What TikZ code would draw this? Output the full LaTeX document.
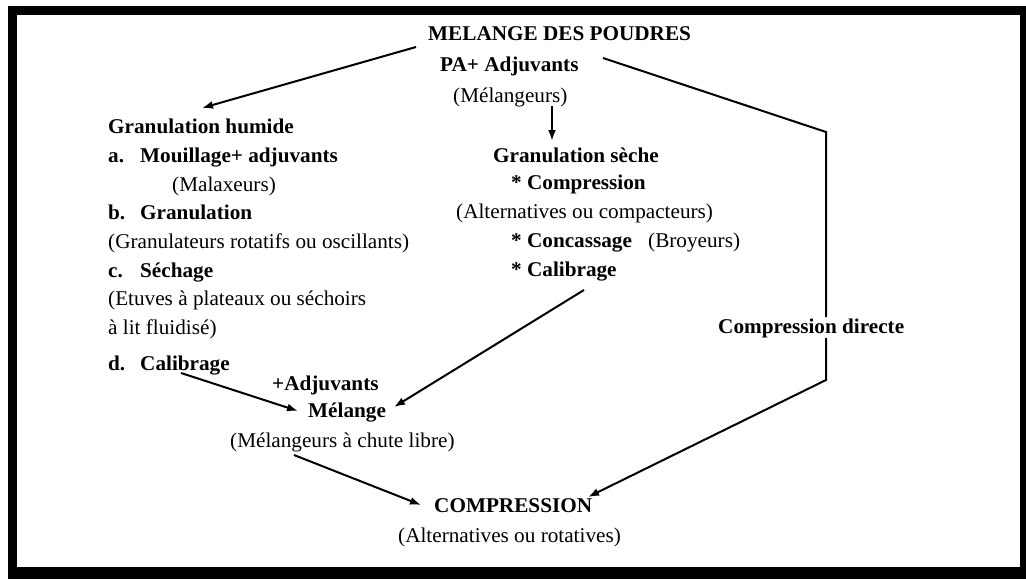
\documentclass[tikz,border=0pt]{standalone}
\usepackage{fontspec}
\setmainfont{Liberation Serif}[FakeStretch=1.01]
\usetikzlibrary{arrows.meta}
\begin{document}
\begin{tikzpicture}[x=1pt,y=-1pt,
  txt/.style={inner sep=0pt, anchor=base west, font=\fontsize{21}{25}\selectfont},
  bt/.style={inner sep=0pt, anchor=base west, font=\fontsize{21}{25}\selectfont\bfseries},
  arr/.style={line width=2pt, -{Latex[length=11pt,width=8pt]}},
  ln/.style={line width=2pt, line join=miter}]
\useasboundingbox (0,0) rectangle (1026,579);
% frame
\fill[black] (8,6) rectangle (1026,579);
\fill[white] (17,15) rectangle (1020,567);
% top
\node[bt] (mel) at (428,40) {MELANGE DES POUDRES};
\node[bt] (pa) at (440,71) {PA+ Adjuvants};
\node[txt] (melg) at (453,102) {(Mélangeurs)};
% wet granulation
\node[bt] (gh) at (108,133) {Granulation humide};
\node[bt] (la) at (108,162) {a.};
\node[bt] (mou) at (140,162) {Mouillage+ adjuvants};
\node[txt] (mal) at (172,191) {(Malaxeurs)};
\node[bt] (lb) at (108,219) {b.};
\node[bt] (gran) at (140,219) {Granulation};
\node[txt] (grt) at (108,248) {(Granulateurs rotatifs ou oscillants)};
\node[bt] (lc) at (108,277) {c.};
\node[bt] (sech) at (140,277) {Séchage};
\node[txt] (etu) at (108,305) {(Etuves à plateaux ou séchoirs};
\node[txt] (lit) at (108,334) {à lit fluidisé)};
\node[bt] (ld) at (108,370) {d.};
\node[bt] (calh) at (140,370) {Calibrage};
% mixing
\node[bt] (adj) at (272,390) {+Adjuvants};
\node[bt] (mlg) at (308,417) {Mélange};
\node[txt] (mlc) at (230,447) {(Mélangeurs à chute libre)};
% compression
\node[bt] (comp) at (434,512) {COMPRESSION};
\node[txt] (altr) at (398,542) {(Alternatives ou rotatives)};
% dry granulation
\node[bt] (gs) at (493,162) {Granulation sèche};
\node[bt] (cps) at (511,189) {* Compression};
\node[txt] (altc) at (456,218) {(Alternatives ou compacteurs)};
\node[bt] (conc) at (511,247) {* Concassage};
\node[txt] (broy) at (648,247) {(Broyeurs)};
\node[bt] (cals) at (511,276) {* Calibrage};
% direct
\node[bt] (cd) at (718,333) {Compression directe};
% connector end points
\coordinate (a1s) at (416,47);
\coordinate (a1e) at (202,108);
\coordinate (a2s) at (552,106);
\coordinate (a2e) at (552,141);
\coordinate (r1) at (603,58);
\coordinate (r2) at (826,132);
\coordinate (r3) at (826,317);
\coordinate (r4) at (826,338);
\coordinate (r5) at (826,380);
\coordinate (r6) at (588,497);
\coordinate (c1s) at (181,373);
\coordinate (c1e) at (298,411);
\coordinate (c2s) at (584,290);
\coordinate (c2e) at (394,407);
\coordinate (m1s) at (294,455);
\coordinate (m1e) at (421,505);
% connectors
\draw[arr] (a1s) -- (a1e);
\draw[arr] (a2s) -- (a2e);
\draw[ln] (r1) -- (r2) -- (r3);
\draw[arr] (r4) -- (r5) -- (r6);
\draw[arr] (c1s) -- (c1e);
\draw[arr] (c2s) -- (c2e);
\draw[arr] (m1s) -- (m1e);
\end{tikzpicture}
\end{document}
